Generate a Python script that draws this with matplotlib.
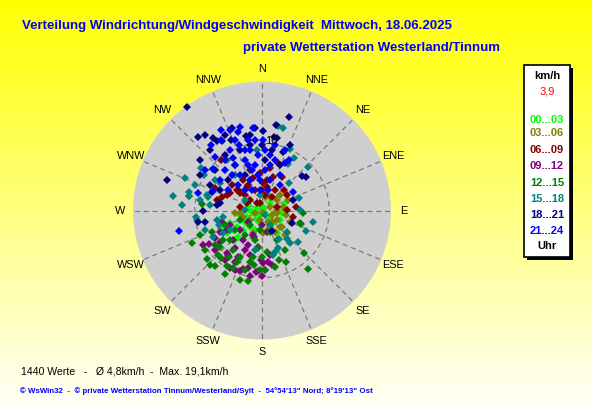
import numpy as np
import matplotlib
matplotlib.use("Agg")
import matplotlib.pyplot as plt
from matplotlib.patches import Rectangle

# wind direction (deg, from N clockwise) and speed (km/h), grouped by time of day
hours = ["00...03", "03...06", "06...09", "09...12", "12...15", "15...18", "18...21", "21...24"]
hour_colors = ["#00FF00", "#808000", "#800000", "#800080", "#008000", "#008080", "#000080", "#0000FF"]

dir_00_03 = [254, 16, 47, 99, 118, 139, 189, 216, 224, 237, 249, 237, 247, 246, 208, 166,
             146, 97, 72, 199, 222, 297, 204, 130, 236, 258, 236, 200, 133, 272, 291, 223]
spd_00_03 = [1.4, 0.5, 1.6, 2.3, 3.0, 2.5, 1.9, 3.0, 4.0, 4.5, 5.1, 6.2, 6.3, 2.4, 1.6, 3.0,
             4.0, 3.0, 3.6, 4.2, 5.3, 0.8, 0.7, 0.6, 3.1, 3.3, 5.2, 3.1, 1.6, 1.8, 2.2, 6.0]

dir_03_06 = [13, 66, 88, 122, 133, 137, 152, 177, 250, 31, 55, 81, 130, 132, 139, 158,
             186, 154, 99, 49, 264, 232, 202, 265, 251, 114, 101, 192, 68, 149, 112]
spd_03_06 = [2.1, 1.3, 2.2, 2.6, 3.6, 5.0, 1.9, 3.4, 1.1, 2.3, 2.7, 3.2, 3.9, 5.0, 2.3, 0.4,
             2.9, 2.7, 2.3, 3.5, 3.3, 2.3, 3.6, 4.0, 3.0, 1.6, 3.6, 1.4, 4.2, 3.7, 4.5]

dir_06_09 = [289, 294, 299, 311, 331, 345, 357, 11, 19, 47, 58, 84, 102, 12, 37, 326,
             297, 279, 321, 309, 327, 2, 344, 9, 18, 31, 89, 77, 345, 311, 308, 283,
             296, 341, 0, 328, 310, 11, 32, 312]
spd_06_09 = [6.3, 5.7, 5.4, 4.7, 4.3, 5.0, 5.6, 6.4, 7.5, 4.5, 4.4, 5.1, 4.7, 3.6, 2.5, 1.3,
             2.5, 3.3, 9.7, 4.8, 4.1, 4.1, 6.3, 4.6, 5.3, 5.8, 3.7, 2.3, 1.2, 2.4, 4.2, 6.9,
             7.8, 3.2, 3.1, 5.3, 5.9, 2.3, 3.6, 3.4]

dir_09_12 = [254, 241, 224, 233, 220, 208, 194, 184, 177, 181, 173, 213, 200, 167, 240, 238,
             240, 217, 200, 198, 186, 209, 207, 190, 179, 170, 186, 197, 203, 195, 216, 246,
             228, 231, 217, 230, 180, 243, 204, 180, 202, 170]
spd_09_12 = [6.2, 6.0, 6.2, 7.8, 8.2, 8.7, 8.8, 9.0, 8.9, 7.4, 7.7, 5.2, 3.9, 3.3, 10.2, 9.3,
             8.1, 8.3, 9.6, 9.2, 9.2, 9.8, 7.8, 9.9, 7.8, 6.7, 5.5, 4.1, 6.4, 6.9, 6.9, 5.2,
             4.4, 2.7, 9.2, 9.1, 2.2, 7.0, 9.7, 9.7, 5.5, 8.2]

dir_12_15 = [281, 276, 245, 229, 220, 212, 191, 167, 155, 135, 142, 108, 93, 109, 229, 216,
             205, 191, 173, 153, 210, 207, 215, 233, 193, 206, 161, 177, 188, 180, 234, 215,
             193, 227, 247, 247, 220, 186, 160, 249, 225, 196, 235, 248, 224, 198, 182, 150,
             221, 186, 234]
spd_12_15 = [11.1, 9.0, 11.5, 10.9, 10.8, 9.8, 10.7, 8.6, 8.5, 8.9, 11.1, 6.0, 6.1, 6.1, 8.3, 7.3,
             7.7, 7.1, 6.2, 4.9, 10.9, 9.6, 8.5, 7.3, 7.9, 8.5, 7.8, 8.9, 8.2, 6.9, 5.0, 4.4,
             4.5, 6.5, 8.1, 3.6, 2.8, 2.9, 3.4, 5.9, 9.3, 9.2, 10.3, 9.9, 11.2, 10.8, 8.9, 6.8,
             9.4, 5.6, 8.7]

dir_15_18 = [305, 302, 281, 262, 11, 14, 24, 31, 47, 71, 103, 115, 131, 139, 157, 166,
             303, 286, 310, 325, 355, 258, 261, 279, 284, 264, 284, 251, 240, 242, 163, 149,
             139, 131, 29, 44, 293, 291, 323, 302, 353, 146, 151, 239, 274, 276, 251,
             280, 303, 272, 89, 190]
spd_15_18 = [11.1, 10.1, 11.1, 9.8, 12.8, 12.7, 10.1, 9.2, 9.4, 5.8, 7.8, 7.2, 7.1, 6.4, 6.1, 6.8,
             7.5, 8.5, 9.5, 9.1, 9.0, 6.8, 5.9, 13.4, 11.2, 9.9, 8.3, 6.8, 6.7, 8.3, 6.5, 4.9,
             5.6, 4.9, 7.9, 5.7, 12.4, 10.7, 6.6, 3.0, 2.3, 0.8, 2.5, 5.6, 11.9, 7.8, 9.0,
             9.4, 8.3, 2.5, 5.7, 6.0]

dir_18_21 = [324, 319, 288, 327, 330, 336, 348, 355, 1, 16, 53, 49, 71, 270, 259, 260,
             113, 9, 12, 23, 20, 277, 280, 154, 319, 326, 329, 311, 340, 350, 0, 3,
             312, 296, 309, 290, 334, 9, 22, 340, 326, 339, 323, 334, 351, 300, 296, 9]
spd_18_21 = [19.1, 14.5, 14.8, 12.4, 11.9, 11.5, 11.3, 12.3, 11.8, 14.5, 8.2, 7.9, 4.9, 8.8, 8.7, 9.7,
             4.8, 11.1, 11.0, 10.6, 9.3, 6.7, 6.4, 3.4, 11.9, 9.9, 7.9, 9.2, 9.6, 9.9, 9.7, 7.5,
             6.8, 8.6, 11.9, 7.9, 5.9, 9.1, 7.3, 13.1, 13.1, 13.0, 14.1, 12.5, 11.4, 10.6, 7.0, 12.9]

dir_21_24 = [333, 338, 256, 285, 345, 354, 319, 292, 1, 26, 28, 59, 332, 341, 349, 356,
             3, 341, 329, 351, 4, 14, 318, 328, 338, 356, 15, 306, 301, 320, 339, 349,
             11, 322, 27, 317, 354, 354, 16, 310, 331, 346, 10, 330, 21,
             344, 8, 320, 354, 343, 324, 35, 334, 305, 343]
spd_21_24 = [13.4, 12.9, 12.8, 9.9, 12.8, 12.4, 10.6, 7.8, 10.5, 7.9, 8.5, 5.4, 10.2, 10.3, 9.2, 8.3,
             9.0, 7.9, 7.9, 6.8, 6.0, 7.8, 8.2, 6.2, 4.9, 4.5, 4.7, 7.7, 5.9, 4.0, 11.2, 10.7,
             9.9, 12.4, 5.9, 5.2, 3.1, 10.5, 3.2, 9.5, 8.9, 6.2, 6.9, 12.1, 9.6,
             9.3, 8.3, 6.9, 5.3, 7.1, 9.3, 4.6, 3.4, 10.4, 12.2]

directions = [dir_00_03, dir_03_06, dir_06_09, dir_09_12, dir_12_15, dir_15_18, dir_18_21, dir_21_24]
speeds = [spd_00_03, spd_03_06, spd_06_09, spd_09_12, spd_12_15, spd_15_18, spd_18_21, spd_21_24]

compass = ["N", "NNE", "NE", "ENE", "E", "ESE", "SE", "SSE",
           "S", "SSW", "SW", "WSW", "W", "WNW", "NW", "NNW"]
r_max = 19.2
title1 = "Verteilung Windrichtung/Windgeschwindigkeit  Mittwoch, 18.06.2025"
title2 = "private Wetterstation Westerland/Tinnum"
stats = "1440 Werte   -   Ø 4,8km/h  -  Max. 19,1km/h"
credit = "© WsWin32  -  © private Wetterstation Tinnum/Westerland/Sylt  -  54°54'13\" Nord; 8°19'13\" Ost"

sans = ["Liberation Sans", "DejaVu Sans"]

fig = plt.figure(figsize=(5.92, 4.07), dpi=100)

# yellow gradient background, pixel coordinates
bg = fig.add_axes([0, 0, 1, 1])
grad = np.linspace(0, 1, 256).reshape(-1, 1)
img = np.dstack([np.ones_like(grad), np.ones_like(grad), grad * 0.97])
bg.imshow(img, aspect="auto", extent=[0, 592, 407, 0])
bg.set_xlim(0, 592)
bg.set_ylim(407, 0)
bg.axis("off")

bg.text(22, 26, title1, color="#0000FF", fontsize=9.5, fontweight="bold", family=sans, va="center")
bg.text(243, 48, title2, color="#0000FF", fontsize=9.5, fontweight="bold", family=sans, va="center")
bg.text(21, 371, stats, color="black", fontsize=7.6, family=sans, va="center")
bg.text(20, 391, credit, color="#0000FF", fontsize=5.7, fontweight="bold", family=sans, va="center")

# legend box
bg.add_patch(Rectangle((527, 68), 46, 192, facecolor="black", edgecolor="none"))
bg.add_patch(Rectangle((524, 65), 46, 192, facecolor="white", edgecolor="black", linewidth=1.2))
bg.text(547, 76, "km/h", fontsize=8, fontweight="bold", family=sans, ha="center", va="center")
bg.text(547, 92, "3,9", fontsize=8, color="red", family=sans, ha="center", va="center")
ys = [120, 133, 150, 166, 183, 199, 215, 231]
for lab, c, y in zip(hours, hour_colors, ys):
    bg.text(547, y, lab, fontsize=8, fontweight="bold", color=c, family=sans, ha="center", va="center")
bg.text(547, 246, "Uhr", fontsize=8, fontweight="bold", family=sans, ha="center", va="center")

# polar scatter
ax = fig.add_axes([133 / 592, (407 - 210.5 - 129) / 407, 258 / 592, 258 / 407], projection="polar")
ax.set_theta_zero_location("N")
ax.set_theta_direction(-1)
ax.set_ylim(0, r_max)
ax.set_facecolor("#CFCFCF")
ax.spines["polar"].set_visible(False)
ax.set_xticks(np.deg2rad(np.arange(0, 360, 22.5)))
ax.set_xticklabels([])
ax.set_yticks([10])
ax.set_yticklabels([])
ax.tick_params(length=0)
ax.grid(True, color="#7A7A7A", linestyle=(0, (4, 3)), linewidth=0.9)

for d, s, c in zip(directions, speeds, hour_colors):
    ax.plot(np.deg2rad(d), s, "D", ms=3.8, mew=0, color=c, clip_on=False)

ax.text(np.deg2rad(8), 10.4, "10", fontsize=8, family=sans, ha="center", va="center")
for i, lab in enumerate(compass):
    ax.text(np.deg2rad(i * 22.5), 21.1, lab, fontsize=7.8, family=sans,
            ha="center", va="center", clip_on=False)

fig.savefig("out.png", dpi=100)
